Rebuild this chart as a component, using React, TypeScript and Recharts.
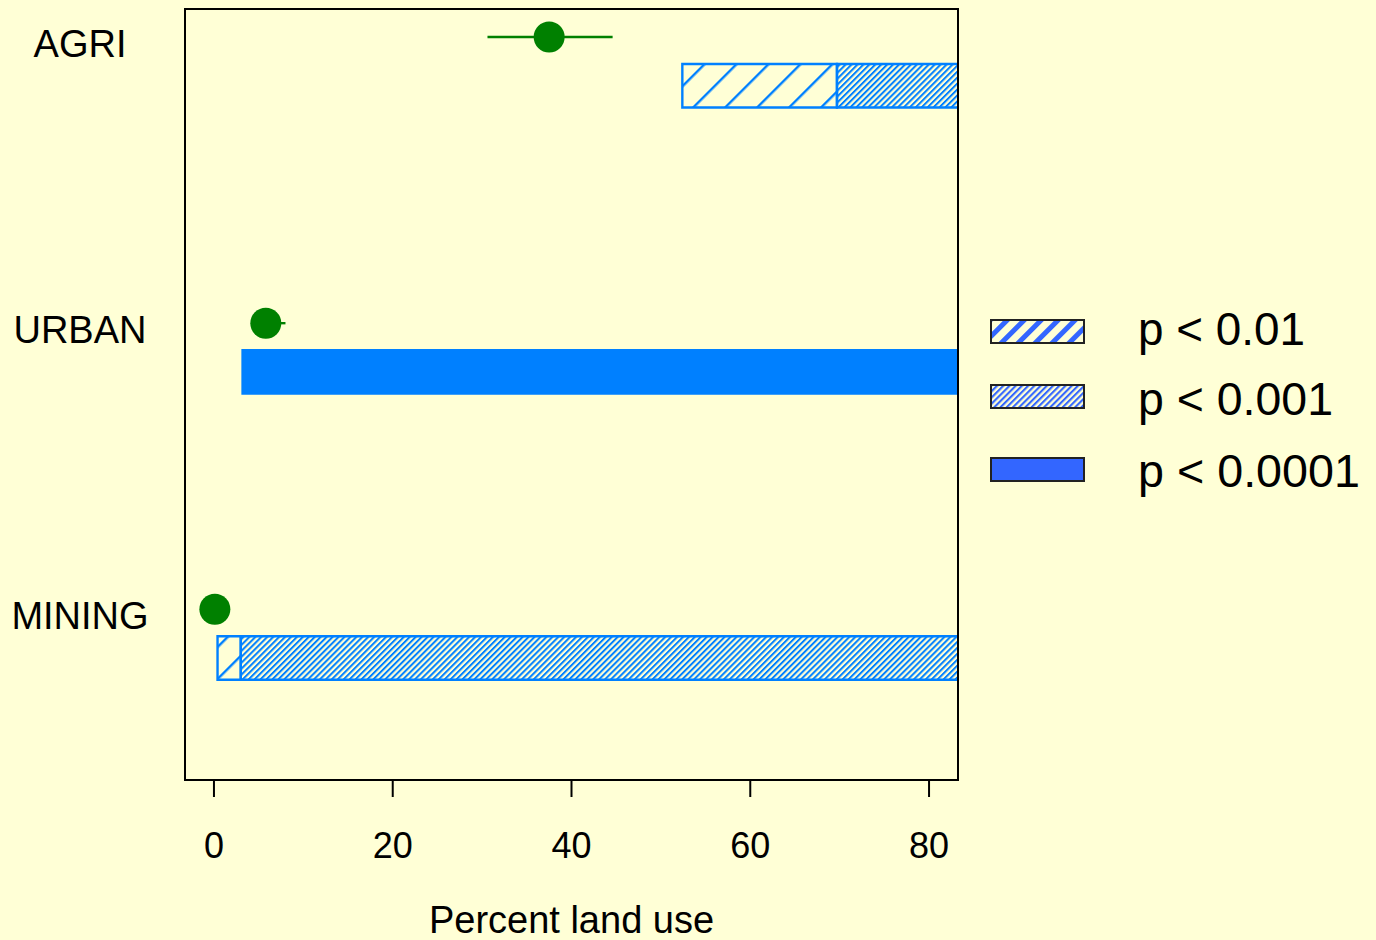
import {
  ScatterChart,
  Scatter,
  XAxis,
  YAxis,
  ErrorBar,
  ReferenceArea,
} from "recharts";

const categories = ["AGRI", "URBAN", "MINING"];
const catPos = [3, 2, 1];
const meanPct = [37.5, 5.8, 0.1];
const ciLow = [30.6, 4.6, 0.0];
const ciHigh = [44.6, 8.0, 0.3];

// land-use ranges where the effect is significant, by level
const p01Start = [52.4, null, 0.4];
const p01End = [69.7, null, 3.0];
const p001Start = [69.7, null, 3.0];
const p001End = [100, null, 100];
const p0001Start = [null, 3.2, null];
const p0001End = [null, 100, null];

const xTicks = [0, 20, 40, 60, 80];
const legendLabels = ["p < 0.01", "p < 0.001", "p < 0.0001"];

const X_DOMAIN = [-3.24, 83.24];
const Y_DOMAIN = [0.4035, 3.098];
const BAR_DROP = 0.17;
const BAR_HALF = 0.076;

const BG = "#FFFFD6";
const BLUE = "#0080FF";
const LEGEND_BLUE = "#3366FF";
const GREEN = "#008000";
const FONT = '"Liberation Sans", Arial, sans-serif';

const tiers = [
  { start: p01Start, end: p01End, fill: "url(#hatchSparse)" },
  { start: p001Start, end: p001End, fill: "url(#hatchDense)" },
  { start: p0001Start, end: p0001End, fill: BLUE },
];

const dots = categories.map((c, i) => ({
  name: c,
  x: meanPct[i],
  y: catPos[i],
  err: [meanPct[i] - ciLow[i], ciHigh[i] - meanPct[i]],
}));

function CategoryTick(props: any) {
  const idx = catPos.indexOf(props.payload.value);
  return (
    <text x={80} y={props.y} dy={20} textAnchor="middle" fontSize={38} fill="#000" fontFamily={FONT}>
      {categories[idx]}
    </text>
  );
}

function Legend() {
  const boxTop = [320, 385, 458];
  const baseline = [345, 415, 487];
  const fills = ["url(#legSparse)", "url(#legDense)", LEGEND_BLUE];
  const widths = [167, 195, 222];
  return (
    <svg style={{ position: "absolute", left: 0, top: 0 }} width={1376} height={940}>
      <defs>
        <pattern id="legSparse" patternUnits="userSpaceOnUse" width={12} height={12} patternTransform="rotate(45)">
          <rect width={5} height={12} fill={LEGEND_BLUE} />
        </pattern>
        <pattern id="legDense" patternUnits="userSpaceOnUse" width={4.4} height={4.4} patternTransform="rotate(45)">
          <rect width={2.1} height={4.4} fill={LEGEND_BLUE} />
        </pattern>
      </defs>
      {legendLabels.map((label, i) => (
        <g key={label}>
          <rect x={991} y={boxTop[i]} width={93} height={23} fill={fills[i]} stroke="#222" strokeWidth={2} />
          <text
            x={1138}
            y={baseline[i]}
            fontSize={46}
            fontFamily={FONT}
            fill="#000"
            textLength={widths[i]}
            lengthAdjust="spacingAndGlyphs"
          >
            {label}
          </text>
        </g>
      ))}
    </svg>
  );
}

export default function App() {
  return (
    <div style={{ position: "absolute", left: 0, top: 0, width: 1376, height: 940, background: BG, overflow: "hidden" }}>
      <ScatterChart
        width={1376}
        height={940}
        margin={{ top: 9, right: 418, bottom: 0, left: 0 }}
        style={{ fontFamily: FONT }}
      >
        <defs>
          <pattern id="hatchSparse" patternUnits="userSpaceOnUse" width={22.6} height={22.6} patternTransform="rotate(45)">
            <line x1={1.2} y1={0} x2={1.2} y2={22.6} stroke={BLUE} strokeWidth={2.4} />
          </pattern>
          <pattern id="hatchDense" patternUnits="userSpaceOnUse" width={4.2} height={4.2} patternTransform="rotate(45)">
            <line x1={1} y1={0} x2={1} y2={4.2} stroke={BLUE} strokeWidth={2} />
          </pattern>
        </defs>
        <XAxis
          type="number"
          dataKey="x"
          domain={X_DOMAIN}
          allowDataOverflow
          ticks={xTicks}
          height={160}
          axisLine={false}
          tickLine={{ stroke: "#000", strokeWidth: 2 }}
          tickSize={17}
          tickMargin={35}
          tick={{ fontSize: 36, fill: "#000", fontFamily: FONT }}
          label={{ value: "Percent land use", position: "insideBottom", offset: 7, fontSize: 38, fill: "#000", fontFamily: FONT }}
        />
        <YAxis
          type="number"
          dataKey="y"
          domain={Y_DOMAIN}
          allowDataOverflow
          ticks={catPos}
          width={185}
          axisLine={false}
          tickLine={false}
          tick={<CategoryTick />}
        />
        {categories.map((c, i) =>
          tiers.map((t, j) =>
            t.start[i] == null ? null : (
              <ReferenceArea
                key={`${c}-${j}`}
                x1={t.start[i] as number}
                x2={t.end[i] as number}
                y1={catPos[i] - BAR_DROP - BAR_HALF}
                y2={catPos[i] - BAR_DROP + BAR_HALF}
                fill={t.fill}
                fillOpacity={1}
                stroke={BLUE}
                strokeWidth={2.4}
                ifOverflow="hidden"
              />
            )
          )
        )}
        <Scatter
          data={dots}
          isAnimationActive={false}
          shape={(p: any) => <circle cx={p.cx} cy={p.cy} r={15.5} fill={GREEN} />}
        >
          <ErrorBar dataKey="err" direction="x" width={0} stroke={GREEN} strokeWidth={2.4} />
        </Scatter>
        <ReferenceArea
          x1={X_DOMAIN[0]}
          x2={X_DOMAIN[1]}
          y1={Y_DOMAIN[0]}
          y2={Y_DOMAIN[1]}
          fill="none"
          stroke="#000"
          strokeWidth={2}
          ifOverflow="visible"
        />
      </ScatterChart>
      <Legend />
    </div>
  );
}
